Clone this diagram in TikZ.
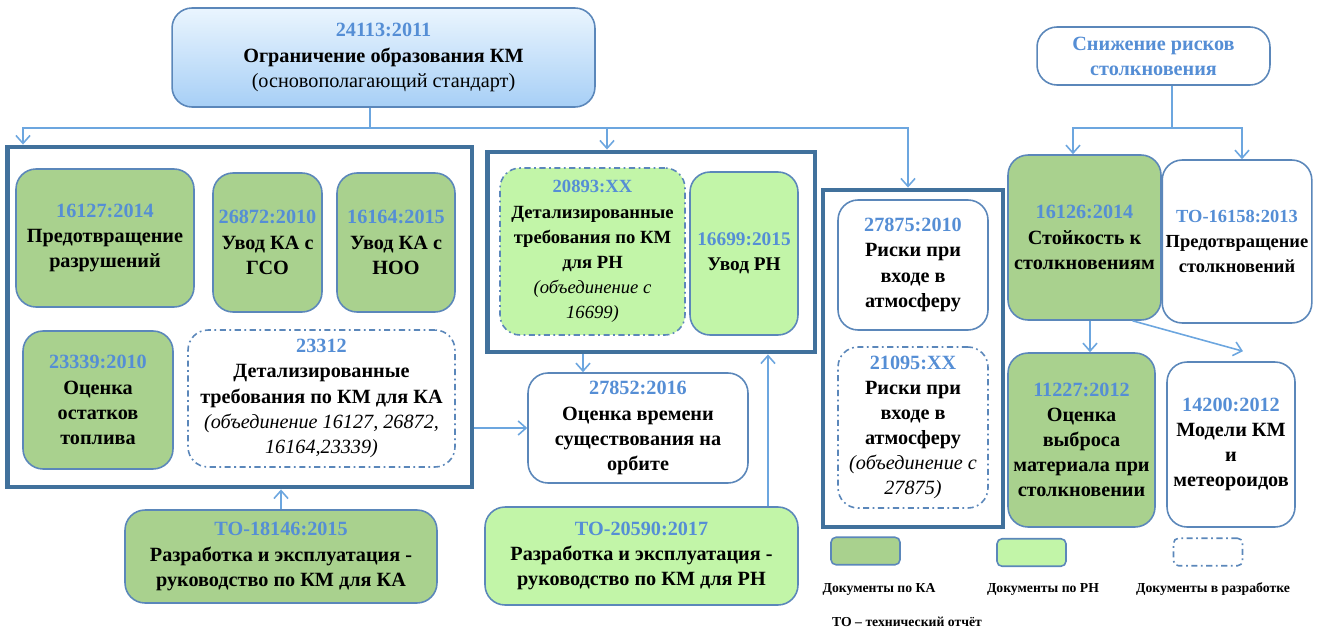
\documentclass[tikz,border=0pt]{standalone}
\usepackage{fontspec}
\setmainfont{Liberation Serif}
\usetikzlibrary{arrows.meta}

\definecolor{kagreen}{HTML}{A9D18E}
\definecolor{rngreen}{HTML}{C2F5A8}
\definecolor{boxblue}{HTML}{5B87BA}
\definecolor{grpblue}{HTML}{41719C}
\definecolor{linkblue}{HTML}{6CA6DF}
\definecolor{numblue}{HTML}{558ED5}
\definecolor{topA}{HTML}{EAF5FE}
\definecolor{topB}{HTML}{A7CFF6}

\newcommand{\nr}[1]{{\color{numblue}#1}}
\newcommand{\note}[1]{{\mdseries\itshape #1}}

\tikzset{
  doc/.style={draw=boxblue, line width=0.9pt, rounded corners=0.4cm, align=center,
    inner sep=2pt, font=\fontsize{11.5}{14.3}\selectfont\bfseries},
  ka/.style={doc, fill=kagreen},
  rn/.style={doc, fill=rngreen},
  plain/.style={doc, fill=white},
  dev/.style={dash pattern=on 3.5pt off 2pt on 1pt off 2pt},
  grp/.style={draw=grpblue, line width=2.8pt, fill=white},
  leg/.style={draw=boxblue, line width=0.9pt, rounded corners=0.1cm,
    minimum width=1.38cm, minimum height=0.55cm},
  legtext/.style={font=\fontsize{7.8}{9}\selectfont\bfseries},
  link/.style={draw=linkblue, line width=0.9pt},
  arr/.style={link, -{Straight Barb[length=4.5pt,width=8pt]}},
}

\begin{document}
\begin{tikzpicture}[x=0.02cm,y=-0.02cm]
\useasboundingbox (0,0) rectangle (1317,635);

% top level
\node[doc, top color=topA, bottom color=topB, minimum width=8.46cm, minimum height=1.98cm]
  (top) at (383.5,57.5) {\nr{24113:2011}\\Ограничение образования КМ\\{\mdseries (основополагающий стандарт)}};
\node[doc, fill=white, minimum width=4.66cm, minimum height=1.16cm, text=numblue]
  (snizh) at (1153.5,56) {Снижение рисков\\столкновения};

% groups
\node[grp, minimum width=9.30cm, minimum height=6.80cm] (grpKA) at (239.5,317) {};
\node[grp, minimum width=6.56cm, minimum height=4.00cm] (grpRN) at (651,252) {};
\node[grp, minimum width=3.60cm, minimum height=6.74cm] (grpAtm) at (913,358.5) {};

% documents for KA
\node[ka, minimum width=3.56cm, minimum height=2.76cm] (b16127) at (105,238)
  {\nr{16127:2014}\\Предотвращение\\разрушений};
\node[ka, minimum width=2.18cm, minimum height=2.78cm] (b26872) at (267.5,242.5)
  {\nr{26872:2010}\\Увод КА с\\ГСО};
\node[ka, minimum width=2.36cm, minimum height=2.78cm] (b16164) at (396,242.5)
  {\nr{16164:2015}\\Увод КА с\\НОО};
\node[ka, minimum width=3.00cm, minimum height=2.76cm] (b23339) at (98,400)
  {\nr{23339:2010}\\Оценка\\остатков\\топлива};
\node[plain, dev, minimum width=5.34cm, minimum height=2.74cm] (b23312) at (321.5,398.5)
  {\nr{23312}\\Детализированные\\требования по КМ для КА\\\note{(объединение 16127, 26872,}\\\note{16164,23339)}};

% documents for RN
\node[rn, dev, minimum width=3.70cm, minimum height=3.34cm, font=\fontsize{10.6}{14.3}\selectfont\bfseries]
  (b20893) at (592.5,251.5)
  {\nr{20893:XX}\\Детализированные\\требования по КМ\\для РН\\\note{(объединение с}\\\note{16699)}};
\node[rn, minimum width=2.16cm, minimum height=3.26cm, font=\fontsize{11}{14.3}\selectfont\bfseries]
  (b16699) at (744,253.5) {\nr{16699:2015}\\Увод РН};
\node[plain, minimum width=4.40cm, minimum height=2.20cm] (b27852) at (638,428)
  {\nr{27852:2016}\\Оценка времени\\существования на\\орбите};

% reports
\node[ka, minimum width=6.24cm, minimum height=1.86cm] (b18146) at (281,556.5)
  {\nr{ТО-18146:2015}\\Разработка и эксплуатация -\\руководство по КМ для КА};
\node[rn, minimum width=6.26cm, minimum height=1.96cm] (b20590) at (641.5,556)
  {\nr{ТО-20590:2017}\\Разработка и эксплуатация -\\руководство по КМ для РН};

% atmosphere
\node[plain, minimum width=3.00cm, minimum height=2.60cm] (b27875) at (913,265)
  {\nr{27875:2010}\\Риски при\\входе в\\атмосферу};
\node[plain, dev, minimum width=3.00cm, minimum height=3.22cm] (b21095) at (913,427.5)
  {\nr{21095:XX}\\Риски при\\входе в\\атмосферу\\\note{(объединение с}\\\note{27875)}};

% collisions
\node[ka, minimum width=3.06cm, minimum height=3.30cm] (b16126) at (1084.5,237.5)
  {\nr{16126:2014}\\Стойкость к\\столкновениям};
\node[plain, minimum width=2.80cm, minimum height=3.26cm, font=\fontsize{10.5}{14.3}\selectfont\bfseries] (b16158) at (1237,241.5)
  {\nr{ТО-16158:2013}\\Предотвращение\\столкновений};
\node[ka, minimum width=2.94cm, minimum height=3.48cm] (b11227) at (1081.5,440)
  {\nr{11227:2012}\\Оценка\\выброса\\материала при\\столкновении};
\node[plain, minimum width=2.56cm, minimum height=3.30cm] (b14200) at (1231,444.5)
  {\nr{14200:2012}\\Модели КМ\\и\\метеороидов};

% legend
\node[leg, fill=kagreen] (legKA) at (865.5,551) {};
\node[leg, fill=rngreen] (legRN) at (1031.5,552.5) {};
\node[leg, dev] (legDev) at (1208,552) {};
\node[legtext] (tKA) at (879,589) {Документы по КА};
\node[legtext] (tRN) at (1043,589) {Документы по РН};
\node[legtext] (tDev) at (1213,589) {Документы в разработке};
\node[legtext] (tTO) at (907,622) {ТО – технический отчёт};

% connectors
\coordinate (split) at (370,128);
\coordinate (lft) at (23,128);
\coordinate (mid) at (607,128);
\coordinate (rgt) at (908,128);
\draw[link] (top.south -| split) -- (split);
\draw[arr] (split) -- (lft) -- (lft |- grpKA.north);
\draw[arr] (split) -- (rgt) -- (rgt |- grpAtm.north);
\draw[arr] (mid) -- (mid |- grpRN.north);

\coordinate (sn) at (1172,128);
\coordinate (snL) at (1073,128);
\coordinate (snR) at (1242,128);
\draw[link] (snizh.south -| sn) -- (sn);
\draw[arr] (sn) -- (snL) -- (snL |- b16126.north);
\draw[arr] (sn) -- (snR) -- (snR |- b16158.north);

\draw[arr] ([xshift=-1.1cm]b27852.north |- grpRN.south) -- ([xshift=-1.1cm]b27852.north);
\draw[arr] (grpKA.east |- b27852.west) -- (b27852.west);
\draw[arr] (b18146.north) -- (b18146.north |- grpKA.south);
\draw[arr] ([xshift=2.53cm]b20590.north) -- ([xshift=2.53cm]b20590.north |- grpRN.south);
\draw[arr] ([xshift=0.11cm]b16126.south) -- ([xshift=0.11cm]b16126.south |- b11227.north);
\draw[arr] ([xshift=0.96cm]b16126.south) -- ([xshift=0.24cm,yshift=0.2cm]b14200.north);
\end{tikzpicture}
\end{document}
